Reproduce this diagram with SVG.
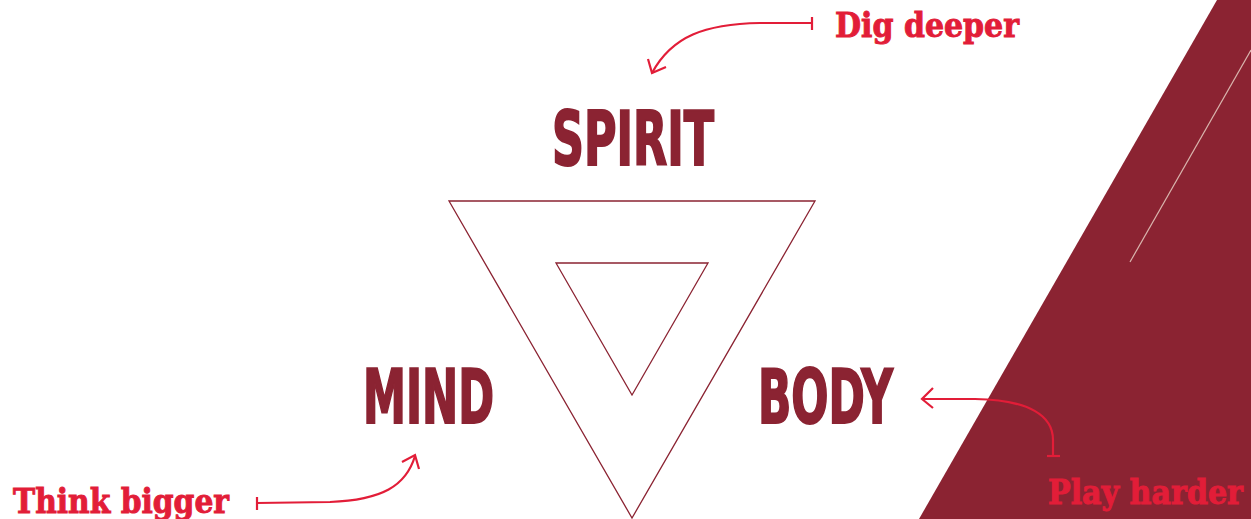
<svg xmlns="http://www.w3.org/2000/svg" width="1251" height="519" viewBox="0 0 1251 519">
  <defs>
    <style>
      .word { font-family: "Liberation Sans Narrow", "DejaVu Sans Condensed", "Liberation Sans", sans-serif; font-weight: bold; font-size: 74px; fill: #8B2332; stroke: #8B2332; stroke-width: 2; stroke-linejoin: miter; }
      .lbl { font-family: "DejaVu Serif", "Liberation Serif", serif; font-weight: bold; font-size: 34px; fill: #E21D38; stroke: #E21D38; stroke-width: 1; }
      .tri { fill: none; stroke: #8B2332; stroke-width: 1.3; stroke-linejoin: miter; }
      .conn { fill: none; stroke: #E21D38; stroke-width: 2.2; stroke-linecap: butt; stroke-linejoin: miter; }
    </style>
  </defs>
  <rect x="0" y="0" width="1251" height="519" fill="#ffffff"/>
  <g id="background">
    <polygon points="1217,0 1251,0 1251,519 919,519" fill="#8B2332"/>
    <line x1="1251" y1="50" x2="1130" y2="262" stroke="#D9B5AE" stroke-width="1.2"/>
  </g>
  <g id="triangle">
    <polygon class="tri" points="449,201 815,201 632,518"/>
    <polygon class="tri" points="556,263 708,263 632,395"/>
  </g>
  <g id="spirit">
    <text class="word" x="552" y="165" textLength="162" lengthAdjust="spacingAndGlyphs">SPIRIT</text>
  </g>
  <g id="mind">
    <text class="word" x="363" y="423" textLength="131" lengthAdjust="spacingAndGlyphs">MIND</text>
  </g>
  <g id="body">
    <text class="word" x="758" y="423" textLength="135" lengthAdjust="spacingAndGlyphs">BODY</text>
  </g>
  <g id="dig-deeper">
    <text class="lbl" x="835" y="37" textLength="184" lengthAdjust="spacingAndGlyphs">Dig deeper</text>
  </g>
  <g id="think-bigger">
    <text class="lbl" x="13" y="513" textLength="216" lengthAdjust="spacingAndGlyphs">Think bigger</text>
  </g>
  <g id="play-harder">
    <text class="lbl" x="1048" y="504" textLength="195" lengthAdjust="spacingAndGlyphs">Play harder</text>
  </g>
  <g id="connectors">
    <path class="conn" d="M812,23 L760,23 C705,24 672,36 652,73"/>
    <line class="conn" x1="812" y1="17" x2="812" y2="30"/>
    <polyline class="conn" points="648,59 652,73 666,67"/>
    <path class="conn" d="M257,503 L330,502 C382,500 406,486 415,456"/>
    <line class="conn" x1="257" y1="497" x2="257" y2="510"/>
    <polyline class="conn" points="402,462 415,455 419,469"/>
    <path class="conn" d="M922,399 L975,399 C1030,400 1053,416 1053,440 L1053,456"/>
    <line class="conn" x1="1047" y1="456" x2="1060" y2="456"/>
    <polyline class="conn" points="933,388 922,399 933,408"/>
  </g>
</svg>
